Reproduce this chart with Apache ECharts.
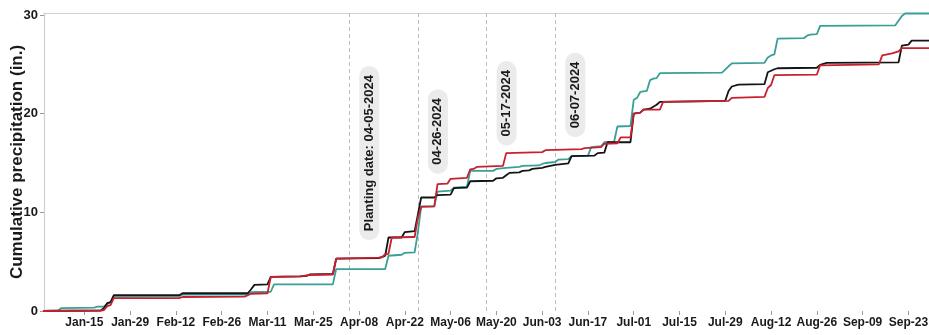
<!DOCTYPE html>
<html>
<head>
<meta charset="utf-8">
<script src="https://cdn.jsdelivr.net/npm/echarts@6/dist/echarts.min.js"></script>
<style>
  html, body { margin: 0; padding: 0; background: #fff; }
  #chart { width: 929px; height: 335px; }
</style>
</head>
<body>
<div id="chart"></div>
<script>
// Cumulative precipitation (in.) for 2024, x = days since Jan 1, 2024.
const tealSeries = [
  [1, 0], [6, 0.05], [7, 0.3], [17, 0.35], [18, 0.45], [20, 0.45], [21, 0.7], [22, 0.9], [23, 1.45],
  [43, 1.5], [44, 1.65], [64, 1.65], [65, 1.9], [71, 1.95], [72, 2.7], [90, 2.7], [91, 4.25],
  [106, 4.25], [107, 5.6], [111, 5.7], [112, 5.9], [115, 5.95], [116, 8.0], [117, 10.6],
  [121, 10.6], [122, 12.1], [126, 12.2], [127, 12.5], [131, 12.6], [132, 14.2],
  [139, 14.2], [140, 14.4], [143, 14.5], [147, 14.6], [148, 14.7], [153, 14.75], [154, 14.9],
  [155, 15.0], [158, 15.1], [159, 15.35], [162, 15.4], [163, 15.7], [168, 15.75], [169, 16.6],
  [172, 16.7], [173, 17.1], [176, 17.15], [177, 18.7], [181, 18.75], [182, 21.4], [183, 21.6],
  [184, 22.2], [186, 22.3], [187, 23.4], [188, 23.55], [189, 23.6], [190, 24.1], [209, 24.15],
  [211, 24.8], [212, 25.1], [222, 25.15], [223, 25.7], [224, 25.9], [225, 26.0], [226, 27.6],
  [234, 27.65], [235, 27.9], [236, 28.0], [238, 28.05], [239, 28.9], [262, 28.95], [264, 29.9],
  [265, 30.15], [274, 30.15]
];

const blackSeries = [
  [1, 0], [19, 0.05], [20, 0.3], [21, 0.8], [22, 0.9], [23, 1.6], [43, 1.6], [44, 1.8],
  [64, 1.8], [65, 2.2], [66, 2.65], [70, 2.7], [71, 3.45], [80, 3.5], [82, 3.55], [83, 3.72],
  [90, 3.75], [91, 5.3], [104, 5.35], [105, 5.45], [106, 5.6], [107, 7.45], [111, 7.45], [112, 8.0],
  [115, 8.1], [116, 9.8], [117, 11.5], [121, 11.5], [122, 11.75], [126, 11.8], [127, 12.45],
  [131, 12.5], [132, 13.15], [139, 13.2], [140, 13.45], [142, 13.5], [143, 13.75], [144, 14.0],
  [147, 14.05], [148, 14.2], [150, 14.25], [151, 14.4], [154, 14.5], [155, 14.6], [158, 14.8],
  [162, 14.95], [163, 15.7], [170, 15.75], [171, 16.0], [173, 16.05], [174, 17.1], [181, 17.1],
  [182, 20.0], [184, 20.1], [185, 20.4], [187, 20.5], [188, 20.7], [189, 20.9], [190, 21.2],
  [210, 21.3], [211, 22.3], [212, 22.75], [214, 22.95], [222, 23.0], [223, 24.2], [225, 24.5],
  [226, 24.6], [238, 24.65], [239, 24.95], [241, 25.15], [263, 25.2], [264, 26.9], [266, 27.0],
  [267, 27.4], [274, 27.4]
];

const redSeries = [
  [1, 0], [19, 0.05], [20, 0.1], [21, 0.5], [22, 0.6], [23, 1.3], [43, 1.3], [44, 1.42],
  [63, 1.45], [64, 1.6], [65, 1.75], [70, 1.8], [71, 3.45], [80, 3.5], [81, 3.55], [83, 3.65],
  [90, 3.7], [91, 5.3], [104, 5.4], [105, 5.45], [106, 5.75], [107, 5.8], [108, 7.45], [114, 7.5],
  [115, 7.5], [116, 9.5], [117, 10.55], [121, 10.6], [122, 12.85], [125, 12.9], [126, 13.4],
  [131, 13.5], [132, 14.35], [133, 14.4], [134, 14.6], [142, 14.7], [143, 16.0], [154, 16.1],
  [155, 16.3], [166, 16.4], [167, 16.5], [172, 16.6], [173, 16.95], [177, 17.0], [178, 17.6],
  [181, 17.6], [182, 20.0], [184, 20.1], [185, 20.4], [190, 20.4], [191, 21.2], [211, 21.3],
  [212, 21.6], [222, 21.7], [223, 22.6], [224, 22.9], [225, 23.9], [238, 23.95], [239, 24.9],
  [257, 25.0], [258, 25.9], [261, 26.1], [263, 26.3], [264, 26.65], [274, 26.65]
];

// Reference dates (days since Jan 1) with their vertical labels and label heights (in.)
const eventDays = [95, 116, 137, 158];
const eventTexts = ['Planting date: 04-05-2024', '04-26-2024', '05-17-2024', '06-07-2024'];
const eventLabelY = [16.0, 18.2, 21.05, 21.9];

// Bottom axis ticks every two weeks, Jan-15 through Sep-23
const tickDays = [14, 28, 42, 56, 70, 84, 98, 112, 126, 140, 154, 168, 182, 196, 210, 224, 238, 252, 266];
const yTicks = [0, 10, 20, 30];

const xMin = 1.65, xMax = 272.3, yMax = 30.2;

const MONTHS = ['Jan', 'Feb', 'Mar', 'Apr', 'May', 'Jun', 'Jul', 'Aug', 'Sep', 'Oct', 'Nov', 'Dec'];
function dayLabel(d) {
  const dt = new Date(Date.UTC(2024, 0, 1) + Math.round(d) * 864e5);
  const dd = String(dt.getUTCDate()).padStart(2, '0');
  return MONTHS[dt.getUTCMonth()] + '-' + dd;
}

const FONT = '"Liberation Sans", Arial, Helvetica, sans-serif';

const chart = echarts.init(document.getElementById('chart'), null, { renderer: 'canvas' });

function lineSeries(name, data, color, extra) {
  return Object.assign({
    name: name,
    type: 'line',
    data: data,
    symbol: 'none',
    showSymbol: false,
    xAxisIndex: 0,
    yAxisIndex: 0,
    lineStyle: { color: color, width: 1.8 },
    itemStyle: { color: color },
    animation: false,
    clip: true
  }, extra || {});
}

chart.setOption({
  animation: false,
  backgroundColor: '#ffffff',
  textStyle: { fontFamily: FONT },
  grid: { left: 44, right: 0, top: 13, bottom: 24, containLabel: false, outerBoundsMode: 'none' },
  xAxis: [
    {
      type: 'value',
      min: xMin,
      max: xMax,
      axisLine: { show: false },
      splitLine: { show: false },
      axisTick: {
        show: true, length: 4, customValues: tickDays,
        lineStyle: { color: '#9a9a9a', width: 1 }
      },
      axisLabel: {
        show: true, customValues: tickDays, margin: 6,
        fontSize: 12, fontWeight: 'bold', color: '#1a1a1a', fontFamily: FONT,
        formatter: function (v) { return dayLabel(v); }
      }
    },
    {
      type: 'value',
      position: 'top',
      min: xMin,
      max: xMax,
      axisLine: { show: true, onZero: false, lineStyle: { color: '#d0d0d0', width: 1.2 } },
      axisTick: { show: false },
      axisLabel: { show: false },
      splitLine: { show: false }
    }
  ],
  yAxis: {
    type: 'value',
    min: 0,
    max: yMax,
    name: 'Cumulative precipitation (in.)',
    nameLocation: 'middle',
    nameGap: 18,
    nameMoveOverlap: false,
    nameTextStyle: { fontSize: 17, fontWeight: 'bold', color: '#1a1a1a', fontFamily: FONT },
    axisLine: { show: true, lineStyle: { color: '#d0d0d0', width: 1.2 } },
    axisTick: { show: true, length: 4, customValues: yTicks, lineStyle: { color: '#9a9a9a' } },
    axisLabel: {
      customValues: yTicks, margin: 6,
      fontSize: 13, fontWeight: 'bold', color: '#1a1a1a', fontFamily: FONT
    },
    splitLine: { show: false }
  },
  series: [
    lineSeries('teal', tealSeries, '#3a9f96', {
      z: 2,
      markLine: {
        silent: true,
        symbol: 'none',
        label: { show: false },
        lineStyle: { color: '#bdbdbd', width: 1, type: [4, 3] },
        data: eventDays.map(function (d) { return { xAxis: d }; }),
        animation: false,
        z: 1
      }
    }),
    lineSeries('black', blackSeries, '#141414', { z: 3 }),
    lineSeries('red', redSeries, '#c8202f', {
      z: 4,
      markPoint: {
        silent: true,
        symbol: 'rect',
        symbolSize: 1,
        itemStyle: { color: 'rgba(0,0,0,0)' },
        animation: false,
        label: {
          show: true,
          position: 'inside',
          rotate: 90,
          offset: [0, 20],
          formatter: '{b}',
          fontSize: 13,
          fontWeight: 'bold',
          color: '#1a1a1a',
          fontFamily: FONT,
          backgroundColor: '#ebebeb',
          borderRadius: 10,
          padding: [3, 9, 3, 9],
          lineHeight: 14
        },
        data: eventDays.map(function (d, i) {
          return { name: eventTexts[i], coord: [d, eventLabelY[i]] };
        })
      }
    })
  ]
});
</script>
</body>
</html>
